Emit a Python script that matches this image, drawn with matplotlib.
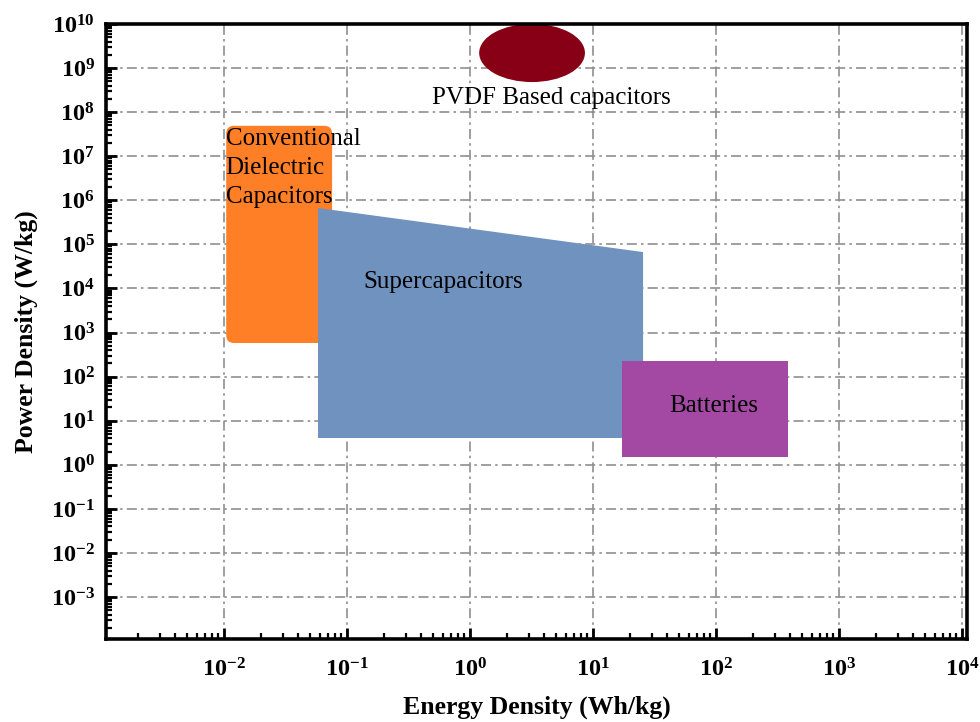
import numpy as np
import matplotlib
matplotlib.use("Agg")
import matplotlib.pyplot as plt
from matplotlib.patches import FancyBboxPatch, Ellipse, Polygon
from matplotlib.ticker import LogLocator, FixedLocator, NullFormatter

plt.rcParams['font.family'] = ['Liberation Serif', 'DejaVu Serif']
plt.rcParams['mathtext.fontset'] = 'custom'
plt.rcParams['mathtext.rm'] = 'Liberation Serif:bold'
plt.rcParams['mathtext.bf'] = 'Liberation Serif:bold'
plt.rcParams['mathtext.it'] = 'Liberation Serif:bold:italic'
plt.rcParams['mathtext.default'] = 'rm'

# Ragone regions (energy density Wh/kg, power density W/kg)
dielectric_E = [0.0104, 0.0755]
dielectric_P = [580, 4.9e7]

super_E = [0.058, 25.5]
super_P_top = [6.7e5, 6.7e4]
super_P_bottom = 4.06

battery_E = [17.2, 385]
battery_P = [1.5, 226]

pvdf_E = 3.19
pvdf_P = 2.2e9
pvdf_span_E = 0.43   # half-width, decades
pvdf_span_P = 0.66   # half-height, decades

x_exps = [-2, -1, 0, 1, 2, 3, 4]
y_exps = list(range(-3, 11))

xlim = (10 ** -2.96, 10 ** 4.04)
ylim = (10 ** -3.95, 1e10)

fig = plt.figure(figsize=(9.8, 7.22), dpi=100)
ax = fig.add_axes([0.1082, 0.115, 0.8785, 0.8518])
ax.set_xscale('log')
ax.set_yscale('log')
ax.set_xlim(*xlim)
ax.set_ylim(*ylim)


def to_axes(x, y):
    return ax.transLimits.transform(ax.transScale.transform((x, y)))


# rounded orange block for conventional dielectric capacitors
(x0, y0) = to_axes(dielectric_E[0], dielectric_P[0])
(x1, y1) = to_axes(dielectric_E[1], dielectric_P[1])
ax.add_patch(FancyBboxPatch((x0, y0), x1 - x0, y1 - y0,
                            boxstyle='round,pad=0,rounding_size=0.009',
                            mutation_aspect=1.4,
                            transform=ax.transAxes, fc='#FF7F27', ec='none', zorder=2))

# supercapacitor trapezoid
sc = [(super_E[0], super_P_bottom), (super_E[0], super_P_top[0]),
      (super_E[1], super_P_top[1]), (super_E[1], super_P_bottom)]
ax.add_patch(Polygon(sc, closed=True, fc='#7092BE', ec='none', zorder=3))

# batteries
bx = [battery_E[0], battery_E[1], battery_E[1], battery_E[0]]
by = [battery_P[0], battery_P[0], battery_P[1], battery_P[1]]
ax.fill(bx, by, color='#A349A4', lw=0, zorder=4)

# PVDF ellipse (ellipse in log-log space)
cx, cy = to_axes(pvdf_E, pvdf_P)
ex, _ = to_axes(pvdf_E * 10 ** pvdf_span_E, pvdf_P)
_, ey = to_axes(pvdf_E, pvdf_P * 10 ** pvdf_span_P)
ax.add_patch(Ellipse((cx, cy), 2 * (ex - cx), 2 * (ey - cy),
                     transform=ax.transAxes, fc='#880015', ec='none',
                     zorder=2, clip_on=False))

# labels
ax.text(dielectric_E[0] * 0.99, 4.4e7, 'Conventional\nDielectric\nCapacitors',
        fontsize=18, ha='left', va='top', linespacing=1.42, zorder=6)
ax.text(0.135, 1.4e4, 'Supercapacitors', fontsize=18, ha='left', va='center', zorder=6)
ax.text(96, 22, 'Batteries', fontsize=18, ha='center', va='center', zorder=6)
ax.text(4.6, 2.1e8, 'PVDF Based capacitors', fontsize=18, ha='center', va='center', zorder=6)

# axes, ticks, grid
ax.xaxis.set_major_locator(FixedLocator([10.0 ** e for e in x_exps]))
ax.yaxis.set_major_locator(FixedLocator([10.0 ** e for e in y_exps]))
ax.xaxis.set_minor_locator(LogLocator(base=10, subs=np.arange(2, 10), numticks=30))
ax.yaxis.set_minor_locator(LogLocator(base=10, subs=np.arange(2, 10), numticks=30))
ax.xaxis.set_minor_formatter(NullFormatter())
ax.yaxis.set_minor_formatter(NullFormatter())
ax.set_xticklabels([r'$10^{%d}$' % e for e in x_exps])
ax.set_yticklabels([r'$10^{%d}$' % e for e in y_exps])
ax.tick_params(which='major', direction='in', length=8, width=2, labelsize=17.5, pad=8)
ax.tick_params(which='minor', direction='in', length=4, width=1.6)
ax.tick_params(axis='x', which='major', pad=14)

ax.grid(True, which='major', color='#8f8f8f', lw=1.2, linestyle=(0, (6, 2.5, 1.5, 2.5)), zorder=1)
ax.set_axisbelow(True)
for s in ax.spines.values():
    s.set_linewidth(2.6)
    s.set_zorder(7)

ax.set_xlabel('Energy Density (Wh/kg)', fontsize=18.5, fontweight='bold', labelpad=10)
ax.set_ylabel('Power Density (W/kg)', fontsize=18.5, fontweight='bold', labelpad=9)

fig.savefig('out.png', dpi=100)
